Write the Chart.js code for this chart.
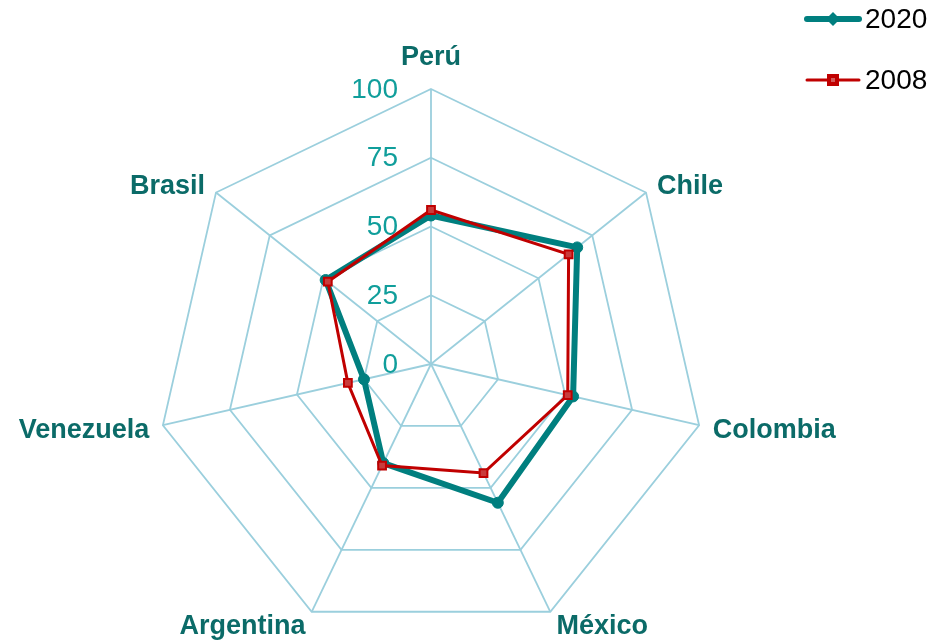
<!DOCTYPE html>
<html lang="es">
<head>
<meta charset="UTF-8">
<title>Radar 2008 / 2020</title>
<script src="https://cdn.jsdelivr.net/npm/chart.js@4.4.1/dist/chart.umd.min.js"></script>
<style>
    html, body { margin: 0; padding: 0; background: #fff; overflow: hidden; }
    #wrap { width: 935px; height: 644px; position: relative; }
</style>
</head>
<body>
<div id="wrap"><canvas id="radar"></canvas></div>
<script>
    const categories = ['Perú', 'Chile', 'Colombia', 'México', 'Argentina', 'Venezuela', 'Brasil'];
    const values2020 = [54, 68, 53, 56, 40, 25, 49];
    const values2008 = [56, 64, 51, 44, 41, 31, 48];
    const tickLabels = [0, 25, 50, 75, 100];

    const TEAL = '#007F7F';
    const RED = '#C00000';
    const GRID = '#9BCFDD';
    const FONT = '"Liberation Sans", Arial, sans-serif';

    // tick labels sit left of the vertical axis, like the excel original
    const tickPlugin = {
        id: 'sideTicks',
        beforeDatasetsDraw(chart) {
            const s = chart.scales.r;
            const ctx = chart.ctx;
            ctx.save();
            ctx.font = '28px ' + FONT;
            ctx.fillStyle = '#109E9B';
            ctx.textAlign = 'right';
            ctx.textBaseline = 'middle';
            tickLabels.forEach(v => {
                const y = s.yCenter - s.getDistanceFromCenterForValue(v);
                ctx.fillText(String(v), s.xCenter - 33, y + 1);
            });
            ctx.restore();
        }
    };

    // country names just outside each spoke
    const labelPlugin = {
        id: 'spokeLabels',
        afterDraw(chart) {
            const s = chart.scales.r;
            const ctx = chart.ctx;
            ctx.save();
            ctx.font = 'bold 27px ' + FONT;
            ctx.fillStyle = '#0B6B68';
            ctx.textBaseline = 'alphabetic';
            categories.forEach((name, i) => {
                const p = s.getPointPosition(i, s.drawingArea + 14);
                const dx = p.x - s.xCenter;
                let y = p.y + 10;
                if (Math.abs(dx) < 5) {
                    ctx.textAlign = 'center';
                    y = p.y - 10;
                } else {
                    ctx.textAlign = dx > 0 ? 'left' : 'right';
                }
                if (p.y - s.yCenter > s.drawingArea) y -= 3;
                ctx.fillText(name, p.x, y);
            });
            ctx.restore();
        }
    };

    const legendPlugin = {
        id: 'cornerLegend',
        afterDraw(chart) {
            const ctx = chart.ctx;
            const items = [
                { label: '2020', color: TEAL, width: 6, y: 19, marker: 'diamond' },
                { label: '2008', color: RED, width: 3, y: 80, marker: 'square' }
            ];
            ctx.save();
            items.forEach(it => {
                ctx.strokeStyle = it.color;
                ctx.lineWidth = it.width;
                ctx.lineCap = 'round';
                ctx.beginPath();
                ctx.moveTo(807, it.y);
                ctx.lineTo(859, it.y);
                ctx.stroke();
                ctx.fillStyle = it.color;
                if (it.marker === 'diamond') {
                    ctx.beginPath();
                    ctx.moveTo(833, it.y - 7);
                    ctx.lineTo(840, it.y);
                    ctx.lineTo(833, it.y + 7);
                    ctx.lineTo(826, it.y);
                    ctx.closePath();
                    ctx.fill();
                } else {
                    ctx.fillRect(827, it.y - 6, 12, 12);
                    ctx.fillStyle = '#D25A5A';
                    ctx.fillRect(831, it.y - 2, 4, 4);
                }
                ctx.fillStyle = '#000';
                ctx.font = '28px ' + FONT;
                ctx.textAlign = 'left';
                ctx.textBaseline = 'middle';
                ctx.fillText(it.label, 865, it.y + 1);
            });
            ctx.restore();
        }
    };

    const chart = new Chart(document.getElementById('radar'), {
        type: 'radar',
        data: {
            labels: categories,
            datasets: [
                {
                    label: '2020',
                    data: values2020,
                    borderColor: TEAL,
                    backgroundColor: TEAL,
                    borderWidth: 6,
                    fill: false,
                    pointStyle: 'circle',
                    pointRadius: 5.5,
                    pointBackgroundColor: TEAL,
                    pointBorderColor: TEAL,
                    pointBorderWidth: 1,
                    order: 1
                },
                {
                    label: '2008',
                    data: values2008,
                    borderColor: RED,
                    backgroundColor: RED,
                    borderWidth: 3,
                    fill: false,
                    pointStyle: 'rect',
                    pointRadius: 5.5,
                    pointBackgroundColor: '#C83C3C',
                    pointBorderColor: RED,
                    pointBorderWidth: 2,
                    order: 0
                }
            ]
        },
        options: {
            responsive: true,
            maintainAspectRatio: false,
            animation: false,
            // pins the web: centre ~ (431, 364), radius 275
            layout: { padding: { left: 156, right: 229, top: 89, bottom: 5 } },
            plugins: {
                legend: { display: false },
                tooltip: { enabled: false }
            },
            elements: { line: { tension: 0 } },
            scales: {
                r: {
                    min: 0,
                    max: 100,
                    ticks: { stepSize: 25, display: false },
                    grid: { color: GRID, lineWidth: 1.8 },
                    angleLines: { color: GRID, lineWidth: 1.8 },
                    pointLabels: { display: false }
                }
            }
        },
        plugins: [tickPlugin, labelPlugin, legendPlugin]
    });
</script>
</body>
</html>
